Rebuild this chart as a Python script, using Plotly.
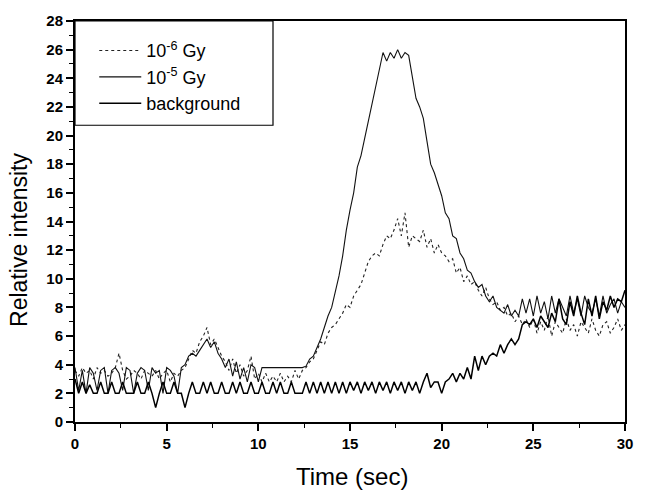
import plotly.graph_objects as go

# sampling grid (seconds)
time_s = [round(i * 0.2, 1) for i in range(151)]

dose_1e6 = [
    3.6, 3.2, 3.8, 3.4, 3.6, 3.0, 3.8, 3.4, 3.6, 3.2,
    3.4, 3.8, 4.8, 3.6, 3.0, 3.2, 3.6, 3.4, 3.0, 3.6,
    3.4, 3.2, 3.6, 3.0, 3.4, 3.6, 2.8, 3.4, 3.2, 3.6,
    3.8, 4.4, 5.0, 4.8, 5.6, 6.0, 6.6, 5.4, 5.8, 5.2, 4.6,
    4.2, 3.6, 4.4, 3.4, 4.0, 3.2, 3.6, 4.6, 3.0, 3.4,
    2.8, 3.4, 2.8, 3.2, 2.8, 3.4, 2.8, 3.2, 2.8, 3.6, 3.0, 3.6,
    3.8, 4.2, 4.4, 5.0, 5.6, 5.4, 6.2, 6.6, 6.8, 7.2, 7.6, 8.2, 8.0, 8.8, 9.2, 9.6, 10.4, 11.2,
    11.6, 11.8, 11.6, 12.4, 13.0, 12.8, 13.4, 14.2, 13.0, 14.6, 12.2, 13.0, 12.8, 12.6,
    13.4, 12.2, 12.8, 11.8, 12.4, 11.8, 11.6, 11.2, 11.4, 10.4, 10.8, 9.8, 10.2, 9.6, 9.8,
    9.2, 8.8, 9.4, 8.6, 8.2, 8.4, 7.8, 8.0, 7.4, 7.6, 7.0, 7.4, 6.8, 7.2,
    6.6, 7.2, 6.2, 7.0, 6.4, 7.4, 6.0, 7.0, 6.6, 6.2, 7.2, 6.4, 6.8, 6.0, 7.0,
    6.6, 6.2, 7.2, 6.4, 6.0, 6.8, 7.0, 6.2, 6.6, 7.2, 6.4, 6.8,
]

dose_1e5 = [
    3.8, 2.2, 3.6, 2.0, 3.8, 3.4, 2.2, 3.6, 3.8, 2.0,
    3.6, 3.8, 3.4, 2.2, 3.8, 3.6, 2.0, 3.4, 3.8, 3.6,
    2.2, 3.8, 3.4, 3.6, 2.0, 3.8, 3.6, 3.2, 2.0, 3.8,
    4.0, 4.6, 4.8, 4.6, 5.0, 5.4, 5.8, 5.2, 5.6, 4.8, 4.4,
    3.8, 4.4, 3.2, 4.2, 3.0, 3.8, 2.8, 4.0, 3.8, 2.8,
    3.8, 3.8, 3.8, 3.8, 3.8, 3.8, 3.8, 3.8, 3.8, 3.8, 3.8, 3.8,
    3.9, 4.4, 4.6, 5.2, 5.8, 6.6, 7.4, 8.0, 9.0, 10.2, 11.6, 13.4, 14.8, 16.0, 17.8, 18.6, 19.8,
    21.0, 22.2, 23.6, 24.8,
    25.8, 25.2, 25.8, 25.4, 26.0, 25.4, 25.8, 25.6,
    24.0, 22.6, 22.0, 21.2, 19.6, 18.0, 17.4, 16.6, 15.8, 14.6, 14.2, 13.0, 12.8, 11.8,
    11.4, 10.6, 10.4, 9.8, 9.4, 9.6, 8.8, 8.4, 8.8, 8.0, 7.8, 7.6, 8.2, 7.4, 7.8, 7.4, 8.6,
    7.6, 8.6, 7.4, 8.8, 7.6, 8.4, 7.2, 8.8, 7.6, 8.6, 8.0, 7.4, 8.8, 7.6,
    8.6, 7.4, 8.8, 8.0, 7.6, 8.6, 7.4, 8.8, 7.6, 8.2, 8.6, 7.6, 8.4, 8.0,
]

background = [
    3.0, 2.0, 2.8, 2.0, 2.6, 2.0, 2.0, 2.8, 2.0, 2.0,
    2.8, 2.0, 2.0, 2.8, 2.0, 2.0, 2.0, 2.8, 2.0, 2.0,
    2.8, 2.0, 1.0, 2.0, 2.8, 2.0, 2.0, 2.8, 2.0, 2.0,
    1.0, 2.0, 2.8, 2.0, 2.0, 2.8, 2.0, 2.8, 2.0, 2.0,
    2.8, 2.0, 2.0, 2.8, 2.0, 2.8, 2.0, 2.0, 2.8, 2.0,
    2.0, 2.8, 2.0, 2.0, 2.8, 2.0, 2.8, 2.0, 2.0, 2.8,
    2.0, 2.0, 2.0, 2.8, 2.0, 2.8, 2.0, 2.8, 2.0, 2.8,
    2.0, 2.8, 2.0, 2.8, 2.0, 2.8, 2.2, 2.8, 2.0, 2.8,
    2.2, 2.8, 2.0, 2.8, 2.2, 2.8, 2.0, 2.8, 2.2, 2.8,
    2.0, 2.8, 2.2, 2.8, 2.0, 2.8, 3.4, 2.4, 2.8, 2.8,
    2.0, 2.8, 3.0, 3.4, 2.8, 3.4, 3.0, 3.8, 3.0, 4.6, 3.6, 4.6,
    4.0, 4.6, 4.8, 4.6, 5.4, 4.8, 5.4, 5.8, 5.4, 5.8, 6.8,
    7.0, 6.8, 7.2, 6.6, 7.4, 7.0, 6.6, 7.6, 7.0, 8.6, 7.2, 6.8, 8.4, 7.4,
    8.8, 7.6, 6.8, 8.6, 7.4, 8.8, 7.2, 8.4, 7.8, 8.8, 8.0, 8.6, 8.4, 9.2,
]

series_names = ["10<sup>-6</sup> Gy", "10<sup>-5</sup> Gy", "background"]
x_ticks = [0, 5, 10, 15, 20, 25, 30]
y_ticks = list(range(0, 29, 2))

fig = go.Figure()
fig.add_trace(go.Scatter(x=time_s, y=dose_1e6, mode="lines", name=series_names[0],
                         line=dict(color="#222", width=1.1, dash="dot")))
fig.add_trace(go.Scatter(x=time_s, y=dose_1e5, mode="lines", name=series_names[1],
                         line=dict(color="#111", width=1.1)))
fig.add_trace(go.Scatter(x=time_s, y=background, mode="lines", name=series_names[2],
                         line=dict(color="#000", width=1.5)))

tick_font = dict(family="Liberation Sans, Arial, sans-serif", size=15, color="black", weight="bold")
fig.update_layout(
    width=647, height=491,
    margin=dict(l=75, r=22, t=18, b=69),
    paper_bgcolor="white", plot_bgcolor="white",
    font=dict(family="Liberation Sans, Arial, sans-serif", color="black"),
    showlegend=True,
    legend=dict(x=0.035, y=0.972, xanchor="left", yanchor="top",
                borderwidth=0, bgcolor="rgba(0,0,0,0)", itemwidth=42,
                font=dict(size=18, color="black"), tracegroupgap=0),
    shapes=[dict(type="rect", xref="paper", yref="paper", x0=0, x1=0.36, y0=0.74, y1=1,
                 line=dict(color="black", width=1.2), layer="above")],
    annotations=[
        dict(text="Time (sec)", xref="paper", yref="paper", x=0.503, y=-0.135,
             xanchor="center", yanchor="middle", showarrow=False,
             font=dict(size=24, color="black")),
        dict(text="Relative intensity", xref="paper", yref="paper", x=-0.103, y=0.455,
             xanchor="center", yanchor="middle", showarrow=False, textangle=-90,
             font=dict(size=23, color="black")),
    ],
    xaxis=dict(range=[0, 30], tickmode="array", tickvals=x_ticks,
               showline=True, linecolor="black", linewidth=2, mirror=True,
               ticks="outside", ticklen=7, tickwidth=1.5, tickcolor="black",
               minor=dict(tickvals=[2.5, 7.5, 12.5, 17.5, 22.5, 27.5], ticks="outside",
                          ticklen=4, tickwidth=1.2, tickcolor="black"),
               showgrid=False, zeroline=False, tickfont=tick_font),
    yaxis=dict(range=[0, 28], tickmode="array", tickvals=y_ticks,
               showline=True, linecolor="black", linewidth=2, mirror=True,
               ticks="outside", ticklen=7, tickwidth=1.5, tickcolor="black",
               minor=dict(tickvals=list(range(1, 28, 2)), ticks="outside",
                          ticklen=4, tickwidth=1.2, tickcolor="black"),
               showgrid=False, zeroline=False, tickfont=tick_font),
)

fig.write_html("out.html")
